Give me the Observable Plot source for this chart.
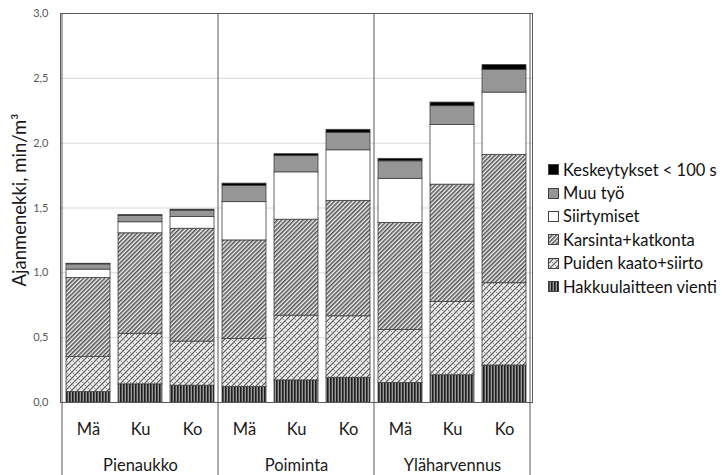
<!DOCTYPE html>
<html><head><meta charset="utf-8">
<script src="https://cdn.jsdelivr.net/npm/d3@7"></script>
<script src="https://cdn.jsdelivr.net/npm/@observablehq/plot@0.6"></script>
<style>
body{margin:0;background:#fff;font-family:Lato,"Noto Sans",sans-serif;}
#wrap{position:relative;width:724px;height:475px;overflow:hidden;}
#chart{position:absolute;left:0;top:0;}
#legend{position:absolute;left:548px;top:158px;font-size:16.5px;color:#111;}
.item{display:flex;align-items:center;height:23.4px;white-space:nowrap;}
.item svg{margin-right:4px;flex:none;}
</style></head><body>
<svg width="0" height="0" style="position:absolute"><defs>
<pattern id="p-hakku" width="3" height="3" patternUnits="userSpaceOnUse"><rect width="3" height="3" fill="#9a9a9a"/><rect width="1.6" height="3" fill="#1e1e1e"/></pattern>
<pattern id="p-puiden" width="6" height="6" patternUnits="userSpaceOnUse"><rect width="6" height="6" fill="#ededed"/><path d="M0,6L6,0M-1,1L1,-1M5,7L7,5" stroke="#555" stroke-width="1.1"/><path d="M0.5,0.5L2.3,2.3M3.7,3.7L5.5,5.5" stroke="#888" stroke-width="1"/></pattern>
<pattern id="p-kars" width="3" height="3" patternUnits="userSpaceOnUse" patternTransform="rotate(45)"><rect width="3" height="3" fill="#f6f6f6"/><rect width="1.6" height="3" fill="#555"/></pattern>
</defs></svg>
<div id="wrap"><div id="chart"></div><div id="legend"></div></div>
<script>
const groups = ["Pienaukko", "Poiminta", "Yläharvennus"];
const subs = ["Mä", "Ku", "Ko"];
const seriesNames = ["Hakkuulaitteen vienti", "Puiden kaato+siirto", "Karsinta+katkonta", "Siirtymiset", "Muu työ", "Keskeytykset < 100 s"];
// values per bar: Pienaukko Mä,Ku,Ko | Poiminta Mä,Ku,Ko | Yläharvennus Mä,Ku,Ko
const hakku = [0.08, 0.14, 0.13, 0.12, 0.17, 0.19, 0.15, 0.21, 0.285];
const puiden = [0.27, 0.39, 0.34, 0.37, 0.50, 0.475, 0.41, 0.565, 0.635];
const karsinta = [0.61, 0.775, 0.87, 0.76, 0.74, 0.89, 0.825, 0.905, 0.99];
const siirtymiset = [0.065, 0.085, 0.09, 0.295, 0.365, 0.39, 0.34, 0.46, 0.48];
const muuTyo = [0.04, 0.05, 0.05, 0.125, 0.125, 0.135, 0.135, 0.145, 0.175];
const keskeytykset = [0.005, 0.005, 0.007, 0.018, 0.015, 0.023, 0.019, 0.028, 0.037];
const yTicks = [0, 0.5, 1, 1.5, 2, 2.5, 3];
const yLabel = "Ajanmenekki, min/m³";

const seriesValues = [hakku, puiden, karsinta, siirtymiset, muuTyo, keskeytykset];
const fills = ["url(#p-hakku)", "url(#p-puiden)", "url(#p-kars)", "#ffffff", "#969696", "#000000"];
const keys = groups.flatMap(g => subs.map(s => g + "|" + s));
const rows = [];
seriesNames.forEach((name, si) => keys.forEach((k, i) => rows.push({key: k, series: name, si, value: seriesValues[si][i]})));
const fmt = d => d.toFixed(1).replace(".", ",");

const plot = Plot.plot({
  width: 540, height: 475,
  marginLeft: 60, marginRight: 8, marginTop: 13, marginBottom: 73,
  style: {fontFamily: "Lato, 'Noto Sans', sans-serif", background: "#fff", overflow: "visible"},
  x: {domain: keys, paddingInner: 0.16, paddingOuter: 0.08, axis: null},
  y: {domain: [0, 3], axis: null},
  color: {type: "identity"},
  marks: [
    Plot.ruleY(yTicks, {stroke: "#d9d9d9"}),
    Plot.barY(rows, {x: "key", y: "value", z: "series", fill: d => fills[d.si], stroke: "#404040", strokeWidth: 0.8}),
    Plot.frame({stroke: "#595959"}),
    Plot.text(yTicks, {y: d => d, text: fmt, frameAnchor: "left", dx: -12, textAnchor: "end", fontSize: 11, fill: "#595959"}),
    Plot.text(keys, {x: d => d, text: d => d.split("|")[1], frameAnchor: "bottom", lineAnchor: "middle", dy: 27, fontSize: 16.5, fill: "#1a1a1a"}),
    Plot.text(groups, {x: g => g + "|Ku", text: d => d, frameAnchor: "bottom", lineAnchor: "middle", dy: 63, fontSize: 16.5, fill: "#1a1a1a"}),
    Plot.text([yLabel], {text: d => d, frameAnchor: "left", textAnchor: "middle", lineAnchor: "middle", dx: -40, dy: -8, rotate: -90, fontSize: 18.5, fill: "#1a1a1a"})
  ]
});
document.getElementById("chart").appendChild(plot);

// category separators extending into the label area
const xs = plot.scale("x");
const gap = (xs.step - xs.bandwidth) / 2;
const bounds = groups.map(g => xs.apply(g + "|" + subs[0]) - gap);
bounds.push(xs.apply(keys[keys.length - 1]) + xs.bandwidth + gap);
d3.select(plot).append("g").selectAll("line").data(bounds).join("line")
  .attr("x1", d => d).attr("x2", d => d).attr("y1", 13).attr("y2", 475)
  .attr("stroke", "#595959").attr("stroke-width", 1);

// legend
const leg = d3.select("#legend");
seriesNames.map((n, i) => ({n, f: fills[i]})).reverse().forEach(({n, f}) => {
  const it = leg.append("div").attr("class", "item");
  const s = it.append("svg").attr("width", 11).attr("height", 11);
  s.append("rect").attr("x", 0.5).attr("y", 0.5).attr("width", 10).attr("height", 10).attr("fill", f).attr("stroke", "#404040");
  it.append("span").text(n);
});
</script>
</body></html>
